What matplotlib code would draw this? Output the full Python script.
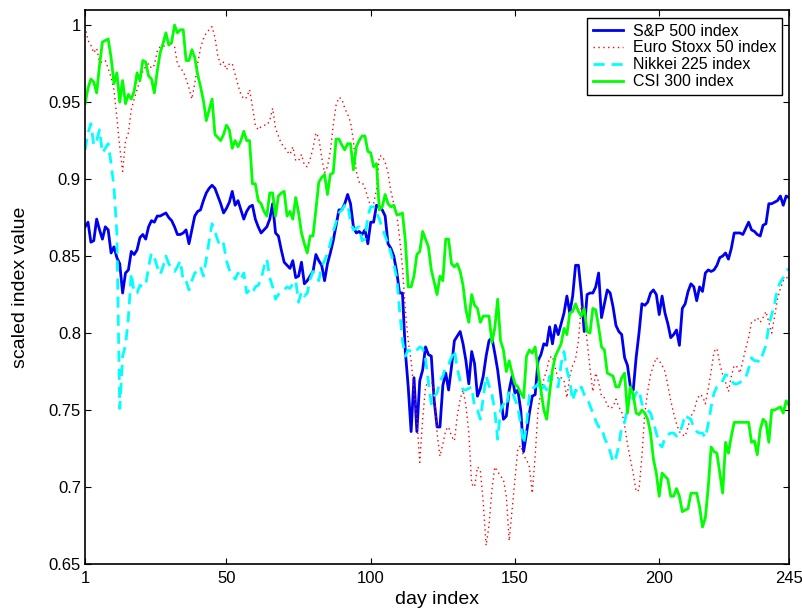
import numpy as np
import matplotlib
matplotlib.use("Agg")
import matplotlib.pyplot as plt

plt.rcParams['font.family'] = ['Liberation Sans', 'DejaVu Sans']

# scaled index values, day 1 .. 245
sp500 = [
    0.869, 0.872, 0.859, 0.860, 0.874, 0.867, 0.861, 0.869, 0.867, 0.852,
    0.856, 0.849, 0.845, 0.826, 0.839, 0.841, 0.853, 0.851, 0.854, 0.862,
    0.864, 0.861, 0.869, 0.873, 0.872, 0.876, 0.876, 0.877, 0.878, 0.875,
    0.873, 0.869, 0.864, 0.864, 0.865, 0.867, 0.858, 0.867, 0.876, 0.879,
    0.880, 0.886, 0.891, 0.894, 0.896, 0.894, 0.889, 0.884, 0.878, 0.881,
    0.885, 0.892, 0.883, 0.886, 0.880, 0.874, 0.879, 0.882, 0.883, 0.874,
    0.869, 0.865, 0.867, 0.869, 0.874, 0.884, 0.865, 0.863, 0.854, 0.846,
    0.844, 0.842, 0.847, 0.836, 0.837, 0.846, 0.832, 0.834, 0.837, 0.840,
    0.851, 0.847, 0.844, 0.834, 0.845, 0.852, 0.860, 0.870, 0.880, 0.880,
    0.884, 0.890, 0.884, 0.869, 0.865, 0.866, 0.864, 0.867, 0.858, 0.872,
    0.872, 0.883, 0.882, 0.880, 0.876, 0.858, 0.855, 0.850, 0.840, 0.826,
    0.826, 0.788, 0.765, 0.736, 0.771, 0.736, 0.769, 0.776, 0.791, 0.786,
    0.785, 0.756, 0.739, 0.739, 0.766, 0.774, 0.763, 0.778, 0.795, 0.798,
    0.801, 0.793, 0.782, 0.767, 0.788, 0.780, 0.759, 0.764, 0.772, 0.785,
    0.795, 0.797, 0.787, 0.776, 0.761, 0.744, 0.746, 0.763, 0.772, 0.761,
    0.763, 0.750, 0.723, 0.735, 0.748, 0.759, 0.760, 0.782, 0.786, 0.793,
    0.792, 0.804, 0.793, 0.805, 0.799, 0.806, 0.813, 0.824, 0.813, 0.824,
    0.844, 0.844, 0.826, 0.801, 0.825, 0.826, 0.826, 0.830, 0.839, 0.810,
    0.819, 0.828, 0.826, 0.817, 0.805, 0.801, 0.799, 0.784, 0.779, 0.765,
    0.763, 0.784, 0.800, 0.819, 0.818, 0.820, 0.826, 0.828, 0.825, 0.812,
    0.824, 0.813, 0.806, 0.797, 0.799, 0.802, 0.792, 0.816, 0.819, 0.827,
    0.832, 0.830, 0.821, 0.830, 0.827, 0.839, 0.841, 0.840, 0.841, 0.844,
    0.849, 0.850, 0.852, 0.848, 0.855, 0.865, 0.865, 0.865, 0.864, 0.868,
    0.872, 0.867, 0.866, 0.864, 0.863, 0.870, 0.871, 0.884, 0.884, 0.885,
    0.886, 0.889, 0.883, 0.889, 0.888,
]

stoxx50 = [
    0.999, 0.990, 0.987, 0.982, 0.985, 0.976, 0.976, 0.977, 0.972, 0.966,
    0.958, 0.940, 0.921, 0.905, 0.925, 0.930, 0.945, 0.952, 0.958, 0.964,
    0.970, 0.973, 0.975, 0.972, 0.974, 0.983, 0.986, 0.986, 0.987, 0.989,
    0.988, 0.986, 0.975, 0.972, 0.970, 0.965, 0.959, 0.952, 0.962, 0.975,
    0.985, 0.991, 0.995, 0.997, 0.999, 0.992, 0.980, 0.974, 0.976, 0.971,
    0.975, 0.975, 0.968, 0.961, 0.955, 0.952, 0.953, 0.958, 0.947, 0.935,
    0.932, 0.934, 0.935, 0.935, 0.938, 0.946, 0.933, 0.928, 0.923, 0.921,
    0.918, 0.916, 0.921, 0.912, 0.912, 0.916, 0.909, 0.908, 0.913, 0.920,
    0.930, 0.927, 0.914, 0.904, 0.908, 0.918, 0.935, 0.948, 0.953, 0.952,
    0.946, 0.942, 0.937, 0.925, 0.905, 0.898, 0.898, 0.894, 0.888, 0.882,
    0.884, 0.893, 0.915, 0.915, 0.911, 0.904, 0.892, 0.884, 0.877, 0.862,
    0.843, 0.815, 0.795, 0.782, 0.762, 0.744, 0.716, 0.744, 0.765, 0.769,
    0.769, 0.762, 0.735, 0.720, 0.728, 0.737, 0.739, 0.733, 0.730, 0.746,
    0.757, 0.763, 0.753, 0.735, 0.702, 0.700, 0.713, 0.711, 0.690, 0.662,
    0.675, 0.698, 0.713, 0.710, 0.707, 0.705, 0.694, 0.665, 0.685, 0.705,
    0.725, 0.727, 0.720, 0.718, 0.713, 0.696, 0.720, 0.750, 0.762, 0.770,
    0.776, 0.784, 0.785, 0.777, 0.770, 0.771, 0.769, 0.758, 0.772, 0.779,
    0.783, 0.795, 0.818, 0.812, 0.795, 0.777, 0.762, 0.774, 0.768, 0.759,
    0.758, 0.753, 0.751, 0.752, 0.757, 0.752, 0.749, 0.740, 0.728, 0.718,
    0.709, 0.697, 0.698, 0.720, 0.748, 0.762, 0.773, 0.779, 0.784, 0.782,
    0.779, 0.775, 0.766, 0.756, 0.748, 0.741, 0.736, 0.734, 0.733, 0.739,
    0.746, 0.749, 0.756, 0.760, 0.759, 0.754, 0.764, 0.775, 0.788, 0.790,
    0.780, 0.773, 0.768, 0.762, 0.772, 0.779, 0.778, 0.774, 0.782, 0.790,
    0.797, 0.807, 0.808, 0.810, 0.807, 0.810, 0.814, 0.807, 0.800, 0.811,
    0.822, 0.829, 0.834, 0.835, 0.838,
]

nikkei225 = [
    0.919, 0.930, 0.936, 0.922, 0.925, 0.932, 0.917, 0.920, 0.923, 0.910,
    0.895, 0.865, 0.751, 0.785, 0.792, 0.810, 0.839, 0.826, 0.826, 0.831,
    0.830, 0.831, 0.843, 0.852, 0.849, 0.843, 0.838, 0.843, 0.850, 0.845,
    0.842, 0.840, 0.843, 0.847, 0.834, 0.834, 0.828, 0.834, 0.839, 0.840,
    0.843, 0.837, 0.848, 0.860, 0.871, 0.866, 0.860, 0.856, 0.858, 0.847,
    0.841, 0.838, 0.835, 0.839, 0.835, 0.839, 0.826, 0.828, 0.826, 0.830,
    0.831, 0.835, 0.843, 0.848, 0.836, 0.830, 0.822, 0.825, 0.827, 0.828,
    0.830, 0.829, 0.832, 0.834, 0.820, 0.827, 0.824, 0.826, 0.835, 0.840,
    0.838, 0.834, 0.843, 0.847, 0.852, 0.858, 0.866, 0.872, 0.878, 0.880,
    0.883, 0.884, 0.872, 0.867, 0.868, 0.869, 0.860, 0.861, 0.876, 0.882,
    0.882, 0.878, 0.874, 0.868, 0.863, 0.858, 0.852, 0.845, 0.836, 0.815,
    0.795, 0.785, 0.789, 0.788, 0.787, 0.789, 0.791, 0.790, 0.783, 0.768,
    0.754, 0.759, 0.761, 0.769, 0.772, 0.778, 0.780, 0.784, 0.789, 0.777,
    0.769, 0.763, 0.763, 0.764, 0.765, 0.752, 0.750, 0.744, 0.758, 0.772,
    0.766, 0.760, 0.750, 0.731, 0.750, 0.754, 0.752, 0.763, 0.762, 0.757,
    0.752, 0.740, 0.728, 0.740, 0.760, 0.764, 0.765, 0.767, 0.762, 0.766,
    0.763, 0.772, 0.769, 0.766, 0.765, 0.780, 0.788, 0.776, 0.769, 0.756,
    0.763, 0.761, 0.765, 0.760, 0.758, 0.753, 0.748, 0.743, 0.739, 0.739,
    0.732, 0.728, 0.723, 0.716, 0.719, 0.727, 0.739, 0.742, 0.752, 0.761,
    0.757, 0.761, 0.763, 0.754, 0.752, 0.750, 0.748, 0.742, 0.735, 0.728,
    0.726, 0.732, 0.734, 0.735, 0.735, 0.733, 0.735, 0.740, 0.747, 0.745,
    0.744, 0.738, 0.736, 0.735, 0.735, 0.732, 0.741, 0.752, 0.761, 0.765,
    0.766, 0.769, 0.773, 0.772, 0.769, 0.767, 0.767, 0.768, 0.769, 0.771,
    0.777, 0.784, 0.782, 0.782, 0.781, 0.787, 0.792, 0.805, 0.812, 0.819,
    0.829, 0.833, 0.836, 0.840, 0.842,
]

csi300 = [
    0.949, 0.959, 0.965, 0.963, 0.956, 0.974, 0.989, 0.990, 0.991, 0.979,
    0.962, 0.969, 0.950, 0.964, 0.949, 0.955, 0.952, 0.957, 0.969, 0.964,
    0.977, 0.976, 0.967, 0.965, 0.956, 0.970, 0.982, 0.988, 0.995, 0.987,
    0.989, 1.000, 0.995, 0.997, 0.997, 0.977, 0.977, 0.984, 0.979, 0.968,
    0.960, 0.951, 0.938, 0.945, 0.952, 0.929, 0.927, 0.925, 0.929, 0.935,
    0.932, 0.920, 0.925, 0.921, 0.925, 0.931, 0.925, 0.925, 0.897, 0.897,
    0.886, 0.884, 0.879, 0.876, 0.891, 0.891, 0.876, 0.889, 0.891, 0.892,
    0.876, 0.879, 0.874, 0.888, 0.878, 0.865, 0.858, 0.852, 0.863, 0.863,
    0.880, 0.898, 0.901, 0.903, 0.890, 0.903, 0.904, 0.926, 0.926, 0.922,
    0.919, 0.923, 0.923, 0.906, 0.921, 0.925, 0.928, 0.928, 0.918, 0.917,
    0.908, 0.910, 0.880, 0.882, 0.890, 0.884, 0.882, 0.883, 0.877, 0.877,
    0.878, 0.860, 0.830, 0.830, 0.837, 0.851, 0.853, 0.866, 0.861, 0.856,
    0.841, 0.833, 0.825, 0.837, 0.834, 0.861, 0.861, 0.845, 0.843, 0.845,
    0.840, 0.831, 0.815, 0.807, 0.825, 0.818, 0.816, 0.807, 0.811, 0.811,
    0.811, 0.794, 0.803, 0.822, 0.795, 0.789, 0.775, 0.782, 0.774, 0.767,
    0.765, 0.761, 0.758, 0.785, 0.789, 0.787, 0.791, 0.776, 0.763, 0.750,
    0.744, 0.761, 0.776, 0.785, 0.789, 0.793, 0.803, 0.799, 0.813, 0.814,
    0.819, 0.814, 0.811, 0.816, 0.801, 0.800, 0.816, 0.815, 0.804, 0.791,
    0.789, 0.774, 0.773, 0.772, 0.765, 0.765, 0.771, 0.774, 0.748, 0.765,
    0.760, 0.748, 0.747, 0.750, 0.748, 0.744, 0.735, 0.718, 0.709, 0.694,
    0.709, 0.707, 0.705, 0.694, 0.694, 0.699, 0.694, 0.684, 0.685, 0.686,
    0.696, 0.696, 0.696, 0.687, 0.674, 0.680, 0.700, 0.726, 0.723, 0.722,
    0.709, 0.696, 0.729, 0.722, 0.733, 0.742, 0.742, 0.742, 0.742, 0.742,
    0.742, 0.729, 0.730, 0.721, 0.737, 0.744, 0.742, 0.729, 0.750, 0.750,
    0.751, 0.752, 0.748, 0.756, 0.753,
]

labels = ['S&P 500 index', 'Euro Stoxx 50 index', 'Nikkei 225 index', 'CSI 300 index']
xticks = [1, 50, 100, 150, 200, 245]
yticks = [0.65, 0.7, 0.75, 0.8, 0.85, 0.9, 0.95, 1.0]
ytick_labels = ['0.65', '0.7', '0.75', '0.8', '0.85', '0.9', '0.95', '1']

days = np.arange(1, len(sp500) + 1)

fig = plt.figure(figsize=(8.03, 6.08), dpi=100)
ax = fig.add_axes([0.106, 0.0724, 0.8766, 0.9116])

ax.plot(days, sp500, color='#0000f0', lw=2.0, label=labels[0])
ax.plot(days, stoxx50, color='#ff0000', lw=1.0, linestyle=(0, (1, 2.5)), label=labels[1])
ax.plot(days, nikkei225, color='#00ffff', lw=2.0, linestyle=(0, (4, 2.5)), label=labels[2])
ax.plot(days, csi300, color='#00ff00', lw=2.0, label=labels[3])

ax.set_xlim(1, 245)
ax.set_ylim(0.65, 1.01)
ax.set_xticks(xticks)
ax.set_yticks(yticks)
ax.set_yticklabels(ytick_labels)
ax.tick_params(direction='in', length=4.5, width=0.8, top=True, right=True,
               labelsize=12, pad=3)
ax.tick_params(axis='x', pad=5)
for s in ax.spines.values():
    s.set_linewidth(1.2)

ax.set_xlabel('day index', fontsize=14, labelpad=4)
ax.set_ylabel('scaled index value', fontsize=14, labelpad=14)

leg = ax.legend(loc='upper right', bbox_to_anchor=(0.9896, 0.9852), borderaxespad=0,
                fontsize=11.5, fancybox=False, framealpha=1, edgecolor='black',
                handlelength=1.9, handletextpad=0.6, borderpad=0.35, labelspacing=0.12)
leg.get_frame().set_linewidth(1.0)

fig.savefig('out.png', dpi=100)
